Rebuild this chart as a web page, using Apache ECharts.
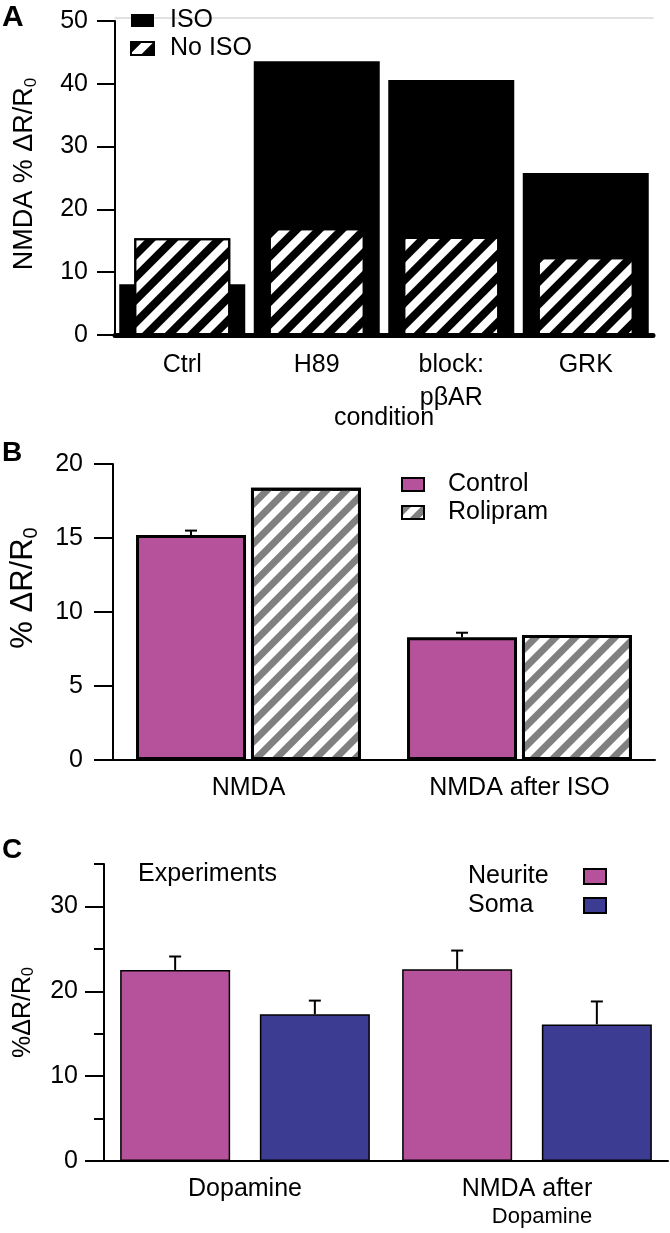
<!DOCTYPE html>
<html><head><meta charset="utf-8">
<script src="https://cdn.jsdelivr.net/npm/echarts@6/dist/echarts.min.js"></script>
<style>html,body{margin:0;padding:0;background:#fff}#c{width:670px;height:1233px}</style>
</head><body><div id="c"></div>
<script>
// ---------- Panel A ----------
const catsA = ['Ctrl', 'H89', 'block:\npβAR', 'GRK'];
const isoA = [8.1, 43.6, 40.6, 25.8];
const noIsoA = [15.4, 17.0, 15.6, 12.4];
// ---------- Panel B ----------
const catsB = ['NMDA', 'NMDA after ISO'];
const controlB = [15.2, 8.3];
const controlErrB = [0.3, 0.3];
const rolipramB = [18.4, 8.45];
// ---------- Panel C ----------
const catsC = ['Dopamine', 'NMDA after\nDopamine'];
const neuriteC = [22.5, 22.6];
const neuriteErrC = [1.6, 2.2];
const somaC = [17.3, 16.1];
const somaErrC = [1.6, 2.7];
const tickLabelsC = [0, 10, 20, 30];

const FONT = "'Liberation Sans', Arial, sans-serif";
const MAG = '#b6529b', NAVY = '#3c3c92';
const FS = 25;
const txt = (s) => ({ fontFamily: FONT, fontSize: s, color: '#000' });

const bwB = 110, gapB = 0.045;
const offB = -(bwB + bwB * gapB) / 2;
const bwC = 110, gapC = 0.27;
const offC = (bwC + bwC * gapC) / 2;

function errRender(offset, lw, cap) {
  return function (params, api) {
    const i = api.value(0), v = api.value(1), e = api.value(2);
    const c = api.coord([i, v]);
    const t = api.coord([i, v + e]);
    const x = c[0] + offset;
    return {
      type: 'group', children: [
        { type: 'line', shape: { x1: x, y1: c[1], x2: x, y2: t[1] }, style: { stroke: '#000', lineWidth: lw } },
        { type: 'line', shape: { x1: x - cap, y1: t[1], x2: x + cap, y2: t[1] }, style: { stroke: '#000', lineWidth: lw } }
      ]
    };
  };
}

const hatchA = { symbol: 'rect', symbolSize: 1, color: '#000', dashArrayX: [1, 0], dashArrayY: [8, 8], rotation: -Math.PI / 4 };
const hatchB = { symbol: 'rect', symbolSize: 1, color: '#808080', dashArrayX: [1, 0], dashArrayY: [7, 7], rotation: -Math.PI / 4 };

const chart = echarts.init(document.getElementById('c'), null, { renderer: 'canvas' });
const option = {
  animation: false,
  backgroundColor: '#fff',
  textStyle: { fontFamily: FONT },
  grid: [
    { left: 115, right: 17, top: 21, height: 314 },
    { left: 112, right: 15, top: 464, height: 296 },
    { left: 104, right: 2, top: 864, height: 297 }
  ],
  legend: [
    { orient: 'vertical', left: 130, top: 8, padding: 0, icon: 'rect', itemWidth: 23, itemHeight: 13, itemGap: 3,
      textStyle: Object.assign(txt(FS), { lineHeight: 24, padding: [0, 0, 0, 11] }), data: ['ISO', 'No ISO'] },
    { orient: 'vertical', left: 401, top: 472, padding: 0, icon: 'rect', itemWidth: 22, itemHeight: 13, itemGap: 3,
      itemStyle: { borderWidth: 2 },
      textStyle: Object.assign(txt(FS), { lineHeight: 24, padding: [0, 0, 0, 19] }), data: ['Control', 'Rolipram'] },
    { orient: 'vertical', left: 468, top: 864, padding: 0, icon: 'rect', itemWidth: 22, itemHeight: 15, itemGap: 4, align: 'right',
      itemStyle: { borderWidth: 2, borderColor: '#000' },
      formatter: (n) => '{t|' + n + '}',
      textStyle: Object.assign(txt(FS), { lineHeight: 24, rich: { t: { fontFamily: FONT, fontSize: FS, color: '#000', width: 111, align: 'left' } } }),
      data: ['Neurite', 'Soma'] }
  ],
  xAxis: [
    { gridIndex: 0, type: 'category', data: catsA, offset: 3,
      axisLine: { lineStyle: { color: '#000', width: 5 } },
      axisTick: { length: 16, lineStyle: { color: '#000', width: 2 } },
      axisLabel: Object.assign(txt(FS), { margin: 11, lineHeight: 33, interval: 0 }),
      name: 'condition', nameLocation: 'middle', nameGap: 68, nameMoveOverlap: false, nameTextStyle: txt(FS) },
    { gridIndex: 0, type: 'category', data: catsA, offset: 3,
      axisLine: { lineStyle: { color: '#d8d8d8', width: 1.5 } },
      axisTick: { inside: true, length: 9, lineStyle: { color: '#000', width: 2 } },
      axisLabel: { show: false } },
    { gridIndex: 1, type: 'category', data: catsB, offset: 3,
      axisLine: { lineStyle: { color: '#000', width: 2 } },
      axisTick: { length: 10, lineStyle: { color: '#000', width: 2 } },
      axisLabel: Object.assign(txt(FS), { margin: 13, interval: 0 }) },
    { gridIndex: 1, type: 'category', data: catsB, offset: 3,
      axisLine: { show: false },
      axisTick: { inside: true, length: 9, lineStyle: { color: '#000', width: 2 } },
      axisLabel: { show: false } },
    { gridIndex: 2, type: 'category', data: catsC, offset: 2,
      axisLine: { lineStyle: { color: '#000', width: 2 } },
      axisTick: { length: 10, lineStyle: { color: '#000', width: 2 } },
      axisLabel: Object.assign(txt(FS), { margin: 13, interval: 0,
        formatter: (v) => { const p = v.split('\n'); return p.length > 1 ? '{a|' + p[0] + '}\n{b|' + p[1] + '}' : '{a|' + v + '}'; },
        rich: { a: { fontFamily: FONT, fontSize: FS, color: '#000', lineHeight: 26 },
                b: { fontFamily: FONT, fontSize: 22, color: '#000', lineHeight: 30, padding: [0, 0, 0, 30] } } }) },
    { gridIndex: 2, type: 'category', data: catsC, offset: 2,
      axisLine: { show: false },
      axisTick: { inside: true, length: 9, lineStyle: { color: '#000', width: 2 } },
      axisLabel: { show: false } }
  ],
  yAxis: [
    { gridIndex: 0, type: 'value', min: 0, max: 50, interval: 10,
      axisLine: { show: true, lineStyle: { color: '#000', width: 2 } },
      axisTick: { show: true, length: 18, lineStyle: { color: '#000', width: 2 } },
      axisLabel: Object.assign(txt(FS), { margin: 27 }),
      splitLine: { show: false },
      name: '{a|NMDA % ΔR/R}{s|0}', nameLocation: 'middle', nameRotate: 90, nameGap: 75,
      nameTextStyle: { padding: [0, 0, 0, 8], rich: { a: { fontFamily: FONT, fontSize: 27, color: '#000' }, s: { fontFamily: FONT, fontSize: 17, color: '#000', verticalAlign: 'bottom', padding: [13, 0, 0, 0] } } } },
    { gridIndex: 1, type: 'value', min: 0, max: 20, interval: 5,
      axisLine: { show: true, lineStyle: { color: '#000', width: 2 } },
      axisTick: { show: true, length: 19, lineStyle: { color: '#000', width: 2 } },
      axisLabel: Object.assign(txt(FS), { margin: 30 }),
      splitLine: { show: false },
      name: '{a|% ΔR/R}{s|0}', nameLocation: 'middle', nameRotate: 90, nameGap: 72,
      nameTextStyle: { padding: [0, 0, 0, 48], rich: { a: { fontFamily: FONT, fontSize: 31, color: '#000' }, s: { fontFamily: FONT, fontSize: 20, color: '#000', verticalAlign: 'bottom', padding: [15, 0, 0, 0] } } } },
    { gridIndex: 2, type: 'value', min: 0, max: 35, interval: 5,
      axisLine: { show: true, lineStyle: { color: '#000', width: 2 } },
      axisTick: { show: true, length: 10, lineStyle: { color: '#000', width: 2 } },
      axisLabel: Object.assign(txt(FS), { margin: 26, customValues: tickLabelsC }),
      splitLine: { show: false },
      name: '{a|%ΔR/R}{s|0}', nameLocation: 'middle', nameRotate: 90, nameGap: 67,
      nameTextStyle: { rich: { a: { fontFamily: FONT, fontSize: 25, color: '#000' }, s: { fontFamily: FONT, fontSize: 16, color: '#000', verticalAlign: 'bottom', padding: [12, 0, 0, 0] } } } },
    { gridIndex: 2, type: 'value', min: 0, max: 35, position: 'left', offset: 0,
      axisLine: { show: false },
      axisTick: { show: true, length: 19, customValues: tickLabelsC, lineStyle: { color: '#000', width: 2 } },
      axisLabel: { show: false }, splitLine: { show: false } }
  ],
  series: [
    { name: 'ISO', type: 'bar', xAxisIndex: 0, yAxisIndex: 0, data: isoA, barWidth: 126,
      itemStyle: { color: '#000' }, emphasis: { disabled: true } },
    { name: 'No ISO', type: 'bar', xAxisIndex: 1, yAxisIndex: 0, data: noIsoA, barWidth: 96,
      itemStyle: { color: '#fff', borderColor: '#000', borderWidth: 2, decal: hatchA }, emphasis: { disabled: true } },
    { name: 'Control', type: 'bar', xAxisIndex: 2, yAxisIndex: 1, data: controlB, barWidth: bwB, barGap: (gapB * 100) + '%',
      itemStyle: { color: MAG, borderColor: '#000', borderWidth: 3 }, emphasis: { disabled: true } },
    { name: 'Rolipram', type: 'bar', xAxisIndex: 2, yAxisIndex: 1, data: rolipramB, barWidth: bwB, barGap: (gapB * 100) + '%',
      itemStyle: { color: '#fff', borderColor: '#000', borderWidth: 3, decal: hatchB }, emphasis: { disabled: true } },
    { type: 'custom', xAxisIndex: 2, yAxisIndex: 1, z: 5, encode: { x: 0, y: 1 },
      data: controlB.map((v, i) => [i, v, controlErrB[i]]), renderItem: errRender(offB, 2, 6) },
    { name: 'Neurite', type: 'bar', xAxisIndex: 4, yAxisIndex: 2, data: neuriteC, barWidth: bwC, barGap: (gapC * 100) + '%',
      itemStyle: { color: MAG, borderColor: '#000', borderWidth: 1.5 }, emphasis: { disabled: true } },
    { name: 'Soma', type: 'bar', xAxisIndex: 4, yAxisIndex: 2, data: somaC, barWidth: bwC, barGap: (gapC * 100) + '%',
      itemStyle: { color: NAVY, borderColor: '#000', borderWidth: 1.5 }, emphasis: { disabled: true } },
    { type: 'custom', xAxisIndex: 4, yAxisIndex: 2, z: 1, encode: { x: 0, y: 1 },
      data: neuriteC.map((v, i) => [i, v, neuriteErrC[i]]), renderItem: errRender(-offC, 2, 6) },
    { type: 'custom', xAxisIndex: 4, yAxisIndex: 2, z: 1, encode: { x: 0, y: 1 },
      data: somaC.map((v, i) => [i, v, somaErrC[i]]), renderItem: errRender(offC, 2, 6) }
  ],
  graphic: [
    { type: 'text', left: 2, top: 3, style: { text: 'A', font: "bold 30px " + FONT, fill: '#000' } },
    { type: 'text', left: 2, top: 439, style: { text: 'B', font: "bold 28px " + FONT, fill: '#000' } },
    { type: 'text', left: 2, top: 836, style: { text: 'C', font: "bold 28px " + FONT, fill: '#000' } },
    { type: 'text', left: 138, top: 862, style: { text: 'Experiments', font: FS + "px " + FONT, fill: '#000' } }
  ]
};
chart.setOption(option);
</script>
</body></html>
